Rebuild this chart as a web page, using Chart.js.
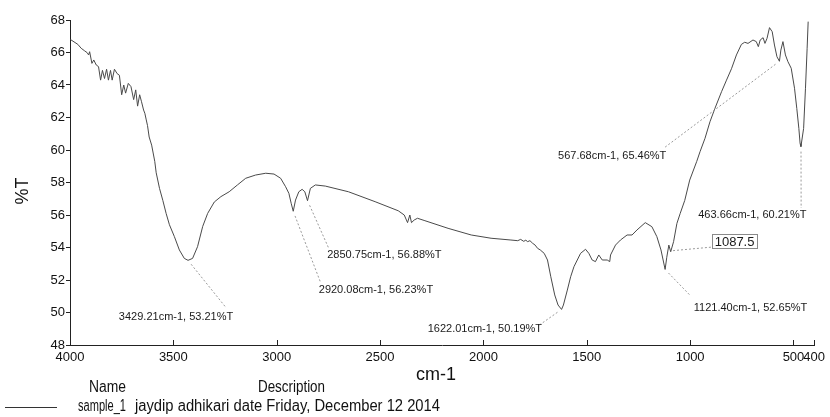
<!DOCTYPE html>
<html>
<head>
<meta charset="utf-8">
<script src="https://cdn.jsdelivr.net/npm/chart.js@4.4.1/dist/chart.umd.min.js"></script>
<style>
  html, body { margin: 0; padding: 0; background: #fff; }
  #wrap { width: 830px; height: 417px; }
</style>
</head>
<body>
<div id="wrap"><canvas id="irChart" width="830" height="417"></canvas></div>
<script>
// Spectrum (cm-1, %T)
const wavenumber = [
  3998, 3962, 3946, 3929, 3917, 3910, 3905, 3894, 3885, 3873, 3862, 3852, 3843, 3833, 3823, 3814,
  3804, 3796, 3785, 3772, 3761, 3750, 3740, 3731, 3718, 3705, 3692, 3682, 3673, 3663, 3654, 3644,
  3638, 3631, 3625, 3617, 3605, 3590, 3583, 3567, 3551, 3535, 3519, 3495, 3471, 3447, 3429, 3407,
  3383, 3358, 3334, 3302, 3270, 3230, 3190, 3150, 3102, 3053, 3013, 2981, 2957, 2941, 2930, 2920,
  2909, 2893, 2877, 2864, 2851, 2837, 2813, 2765, 2653, 2524, 2412, 2383, 2367, 2356, 2348, 2335,
  2319, 2283, 2171, 2059, 1963, 1867, 1834, 1820, 1805, 1795, 1786, 1775, 1762, 1750, 1738, 1725,
  1706, 1690, 1674, 1655, 1639, 1622, 1613, 1594, 1578, 1562, 1546, 1530, 1506, 1490, 1474, 1458,
  1442, 1425, 1401, 1389, 1385, 1361, 1337, 1305, 1281, 1257, 1217, 1185, 1161, 1141, 1121, 1113,
  1103, 1094, 1080, 1064, 1048, 1026, 1002, 968, 952, 928, 904, 880, 848, 824, 800, 776,
  752, 736, 720, 696, 680, 670, 661, 647, 638, 628, 616, 603, 592, 580, 568, 561,
  551, 539, 527, 511, 495, 484, 474, 468, 464, 451, 442, 434, 429
];
const transmittance = [
  66.80, 66.50, 66.26, 66.10, 65.99, 65.85, 66.05, 65.33, 65.54, 65.23, 65.13, 64.30, 64.90, 64.40, 64.97, 64.30,
  64.90, 64.30, 64.97, 64.70, 64.60, 63.40, 64.00, 63.50, 64.10, 63.90, 63.10, 63.70, 62.70, 63.40, 62.97, 62.46,
  62.26, 61.85, 61.50, 60.80, 60.30, 59.30, 58.60, 57.64, 56.90, 56.10, 55.40, 54.67, 53.85, 53.33, 53.21, 53.33,
  54.05, 55.30, 56.10, 56.80, 57.13, 57.43, 57.85, 58.26, 58.46, 58.57, 58.52, 58.26, 57.74, 57.33, 56.72, 56.23,
  56.92, 57.43, 57.58, 57.43, 56.88, 57.64, 57.85, 57.78, 57.43, 56.82, 56.26, 56.00, 55.53, 56.00, 55.53, 55.69,
  55.80, 55.65, 55.18, 54.77, 54.57, 54.46, 54.42, 54.50, 54.38, 54.45, 54.36, 54.42, 54.26, 54.15, 53.95, 53.85,
  53.64, 53.23, 52.20, 51.08, 50.46, 50.19, 50.46, 51.38, 52.20, 52.82, 53.23, 53.64, 53.89, 53.64, 53.23, 53.13,
  53.54, 53.23, 53.23, 53.13, 53.54, 54.15, 54.46, 54.77, 54.77, 55.08, 55.53, 55.28, 54.67, 53.85, 52.65, 53.40,
  54.15, 53.74, 54.36, 55.48, 56.10, 56.90, 58.15, 59.30, 59.90, 60.72, 61.74, 62.56, 63.59, 64.30, 65.00, 65.85,
  66.50, 66.63, 66.56, 66.77, 66.67, 66.36, 66.77, 66.91, 66.56, 66.87, 67.53, 67.28, 66.46, 65.74, 65.46, 66.15,
  66.67, 65.85, 65.44, 65.03, 63.80, 62.56, 61.33, 60.40, 60.21, 61.33, 63.80, 66.26, 67.90
];

// Axis ticks
const xTicks = [4000, 3500, 3000, 2500, 2000, 1500, 1000, 500, 400];
const yTicks = [48, 50, 52, 54, 56, 58, 60, 62, 64, 66, 68];

// Peak picks: peak point, label text, where the label sits (data units)
const peakWn  = [3429.21, 2920.08, 2850.75, 1622.01, 1121.40, 1087.5, 463.66, 567.68];
const peakT   = [53.21, 56.23, 56.88, 50.19, 52.65, 53.80, 60.21, 65.46];
const peakText = [
  "3429.21cm-1, 53.21%T", "2920.08cm-1, 56.23%T", "2850.75cm-1, 56.88%T", "1622.01cm-1, 50.19%T",
  "1121.40cm-1, 52.65%T", "1087.5", "463.66cm-1, 60.21%T", "567.68cm-1, 65.46%T"
];
const leaderEndWn = [3244, 2787, 2749, 1729, 1002, 891, 463, 1127];
const leaderEndT  = [50.28, 51.82, 53.97, 49.23, 51.08, 54.03, 56.43, 60.12];
const labelWn = [3487, 2520, 2479, 1993, 708, 785, 699, 1377];
const labelT  = [49.72, 51.38, 53.54, 48.98, 50.28, 54.40, 56.00, 59.63];

const FONT = '"Liberation Sans", Arial, Helvetica, sans-serif';

// draw text squeezed/stretched to a given width (the scan's font is narrow)
function fitText(ctx, text, x, y, w) {
  const m = ctx.measureText(text).width;
  ctx.save();
  ctx.translate(x, y);
  ctx.scale(w / m, 1);
  ctx.fillText(text, 0, 0);
  ctx.restore();
}

const decorations = {
  id: "decorations",
  afterDraw(chart) {
    const ctx = chart.ctx;
    const xs = chart.scales.x;
    const ys = chart.scales.y;
    const area = chart.chartArea;

    // inward x ticks
    ctx.save();
    ctx.strokeStyle = "#222";
    ctx.lineWidth = 1;
    xTicks.forEach(v => {
      const px = Math.round(xs.getPixelForValue(v)) + 0.5;
      ctx.beginPath();
      ctx.moveTo(px, area.bottom);
      ctx.lineTo(px, area.bottom - 5);
      ctx.stroke();
    });
    ctx.restore();

    // peak leaders and labels
    ctx.save();
    ctx.font = "11px " + FONT;
    ctx.textAlign = "center";
    ctx.textBaseline = "middle";
    peakWn.forEach((w, i) => {
      const x0 = xs.getPixelForValue(w), y0 = ys.getPixelForValue(peakT[i]);
      const x1 = xs.getPixelForValue(leaderEndWn[i]), y1 = ys.getPixelForValue(leaderEndT[i]);
      const d = Math.hypot(x1 - x0, y1 - y0);
      const gap = i === 5 ? 1 : 5;
      ctx.strokeStyle = "#9a9a9a";
      ctx.setLineDash([2, 2]);
      ctx.lineWidth = 1;
      ctx.beginPath();
      ctx.moveTo(x0 + (x1 - x0) * gap / d, y0 + (y1 - y0) * gap / d);
      ctx.lineTo(x1, y1);
      ctx.stroke();
      ctx.setLineDash([]);

      const lx = xs.getPixelForValue(labelWn[i]), ly = ys.getPixelForValue(labelT[i]);
      ctx.fillStyle = "#1a1a1a";
      if (i === 5) {
        ctx.font = "13px " + FONT;
        const tw = ctx.measureText(peakText[i]).width;
        ctx.strokeStyle = "#8a8a8a";
        ctx.strokeRect(Math.round(lx - tw / 2 - 3) + 0.5, Math.round(ly - 7) + 0.5, Math.round(tw + 5), 14);
        ctx.fillText(peakText[i], lx, ly + 1);
        ctx.font = "11px " + FONT;
      } else {
        ctx.fillText(peakText[i], lx, ly);
      }
    });
    ctx.restore();

    // axis titles
    ctx.save();
    ctx.fillStyle = "#111";
    ctx.font = "18px " + FONT;
    ctx.textAlign = "center";
    ctx.textBaseline = "middle";
    ctx.fillText("cm-1", 436, 375);
    ctx.translate(23, 191);
    ctx.rotate(-Math.PI / 2);
    ctx.fillText("%T", 0, 0);
    ctx.restore();

    // footer legend
    ctx.save();
    ctx.fillStyle = "#111";
    ctx.font = "16px " + FONT;
    ctx.textBaseline = "middle";
    ctx.textAlign = "left";
    fitText(ctx, "Name", 89, 388, 37);
    fitText(ctx, "Description", 258, 388, 67);
    fitText(ctx, "sample_1", 78, 407, 48);
    fitText(ctx, "jaydip adhikari date Friday, December 12 2014", 135, 407, 305);
    ctx.strokeStyle = "#333";
    ctx.lineWidth = 1;
    ctx.beginPath();
    ctx.moveTo(5, 407.5);
    ctx.lineTo(57, 407.5);
    ctx.stroke();
    ctx.restore();
  }
};

const ctx = document.getElementById("irChart").getContext("2d");
const irChart = new Chart(ctx, {
  type: "line",
  data: {
    datasets: [{
      label: "sample_1",
      data: wavenumber.map((w, i) => ({ x: w, y: transmittance[i] })),
      borderColor: "#4a4a4a",
      borderWidth: 1,
      pointRadius: 0,
      tension: 0,
      fill: false
    }]
  },
  options: {
    responsive: false,
    animation: false,
    events: [],
    layout: { padding: { left: 0, right: 12, top: 20, bottom: 52 } },
    plugins: { legend: { display: false }, tooltip: { enabled: false } },
    scales: {
      x: {
        type: "linear",
        reverse: true,
        min: 400,
        max: 4000,
        afterBuildTicks: s => { s.ticks = xTicks.map(v => ({ value: v })); },
        afterFit: s => { s.height = 20; },
        grid: { display: true, drawOnChartArea: false, drawTicks: false },
        border: { display: true, color: "#222", width: 1 },
        ticks: {
          autoSkip: false, maxRotation: 0, minRotation: 0, padding: 5,
          color: "#111", font: { family: FONT, size: 13 },
          callback: v => String(v)
        }
      },
      y: {
        min: 48,
        max: 68,
        afterBuildTicks: s => { s.ticks = yTicks.map(v => ({ value: v })); },
        afterFit: s => { s.width = 70; },
        grid: { display: true, drawOnChartArea: false, drawTicks: true, tickLength: 4, color: "#222" },
        border: { display: true, color: "#222", width: 1 },
        ticks: {
          padding: 1, color: "#111", font: { family: FONT, size: 13 },
          callback: v => String(v)
        }
      }
    }
  },
  plugins: [decorations]
});
</script>
</body>
</html>
